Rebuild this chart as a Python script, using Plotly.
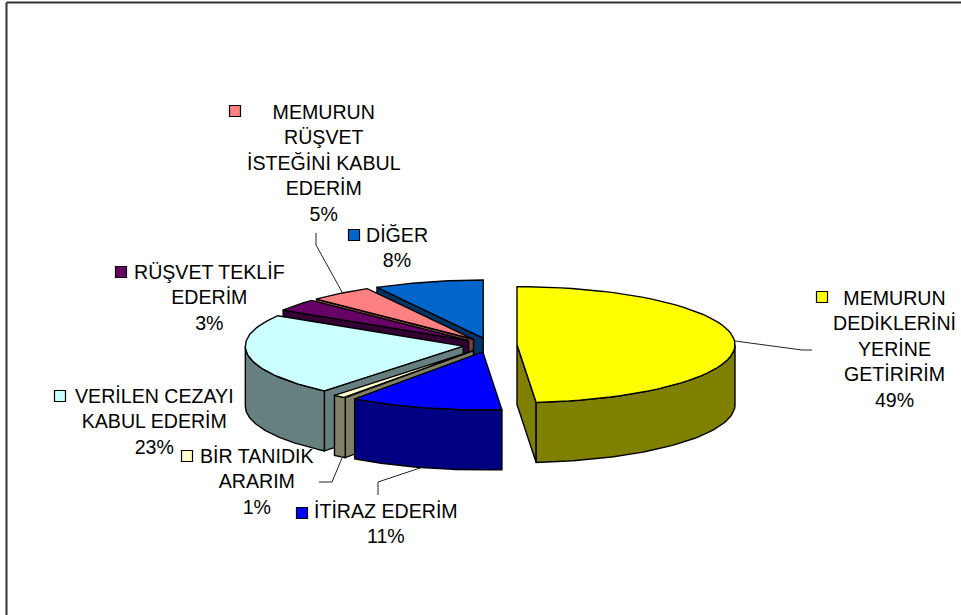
import math
import plotly.graph_objects as go

# --- data (clockwise from 12 o'clock) ---
categories = ["MEMURUN<br>DEDİKLERİNİ<br>YERİNE<br>GETİRİRİM", "İTİRAZ EDERİM", "BİR TANIDIK<br>ARARIM",
              "VERİLEN CEZAYI<br>KABUL EDERİM", "RÜŞVET TEKLİF<br>EDERİM",
              "MEMURUN<br>RÜŞVET<br>İSTEĞİNİ KABUL<br>EDERİM", "DİĞER"]
values = [48.6, 11.4, 1.0, 22.8, 3.4, 4.7, 8.1]
percent_labels = ["49%", "11%", "1%", "23%", "3%", "5%", "8%"]

# --- styles ---
top_colors = ["#FFFF00", "#0000FF", "#FFFFCC", "#CCFFFF", "#660066", "#FF8080", "#0066CC"]
side_colors = ["#808000", "#000080", "#808066", "#668080", "#330033", "#804040", "#003366"]
CX, CY, A, B, DEPTH, EXPLODE = 490, 345, 218, 58, 60, 0.124
label_pos = [(894, 349), (386, 523), (257, 481), (154, 421), (209, 297), (324, 163), (397, 247)]
key_pos = [(822, 297), (302, 513), (187, 456), (60, 396), (121, 272), (235, 111), (354, 235)]
leaders = [[(735, 341), (802, 350), (812, 350)],
           [(423, 467), (378, 482), (378, 495)],
           [(342, 458), (332, 482), (319, 482)],
           None, None,
           [(342, 292), (316, 245), (316, 233)],
           None]

fig = go.Figure()


def poly(pts, fill, width=1.4):
    fig.add_trace(go.Scatter(x=[p[0] for p in pts] + [pts[0][0]], y=[p[1] for p in pts] + [pts[0][1]],
                             mode="lines", fill="toself", fillcolor=fill,
                             line=dict(color="black", width=width), hoverinfo="skip", showlegend=False))


# compute slice angles
total = sum(values)
slices = []
acc = 0.0
for i, v in enumerate(values):
    t0 = acc / total * 2 * math.pi
    acc += v
    t1 = acc / total * 2 * math.pi
    m = (t0 + t1) / 2
    cx = CX + EXPLODE * A * math.sin(m)
    cy = CY - EXPLODE * B * math.cos(m)
    slices.append((i, t0, t1, cx, cy))


def edge(cx, cy, t):
    return (cx + A * math.sin(t), cy - B * math.cos(t))


def arc(cx, cy, t0, t1, n=60):
    return [edge(cx, cy, t0 + (t1 - t0) * k / n) for k in range(n + 1)]


def drop(pts):
    return [(x, y + DEPTH) for x, y in pts]


# paint back to front
for i in [6, 5, 4, 3, 2, 1, 0]:
    _, t0, t1, cx, cy = slices[i]
    c = (cx, cy)
    if math.sin(t0) < 0:  # start face looks toward viewer
        e = edge(cx, cy, t0)
        poly([c, e, (e[0], e[1] + DEPTH), (cx, cy + DEPTH)], side_colors[i])
    if math.sin(t1) > 1e-6:  # end face looks toward viewer
        e = edge(cx, cy, t1)
        poly([c, e, (e[0], e[1] + DEPTH), (cx, cy + DEPTH)], side_colors[i])
    r0, r1 = max(t0, math.pi / 2), min(t1, 3 * math.pi / 2)
    if r1 > r0:
        rim = arc(cx, cy, r0, r1)
        poly(rim + drop(rim)[::-1], side_colors[i])
    poly([c] + arc(cx, cy, t0, t1), top_colors[i])

# leader lines
for seg in leaders:
    if seg:
        fig.add_trace(go.Scatter(x=[p[0] for p in seg], y=[p[1] for p in seg], mode="lines",
                                 line=dict(color="#222222", width=1), hoverinfo="skip", showlegend=False))

# legend keys
for (x, y), col in zip(key_pos, top_colors):
    fig.add_trace(go.Scatter(x=[x], y=[y], mode="markers",
                             marker=dict(symbol="square", size=11, color=col, line=dict(color="black", width=1.2)),
                             hoverinfo="skip", showlegend=False))

# labels
for (x, y), name, pct in zip(label_pos, categories, percent_labels):
    fig.add_annotation(x=x, y=y, xref="x", yref="y", text=f"{name}<br>{pct}", showarrow=False,
                       xanchor="center", yanchor="middle", align="center",
                       font=dict(family="Liberation Sans", size=19.6, color="black"))

# frame: only top and left edges are visible
fig.add_shape(type="line", x0=6.5, x1=6.5, y0=2.5, y1=615, xref="x", yref="y", line=dict(color="#333333", width=2))
fig.add_shape(type="line", x0=6.5, x1=961, y0=2.5, y1=2.5, xref="x", yref="y", line=dict(color="#333333", width=2))

fig.update_layout(width=961, height=615, margin=dict(l=0, r=0, t=0, b=0), paper_bgcolor="white", plot_bgcolor="white",
                  xaxis=dict(range=[0, 961], visible=False, fixedrange=True),
                  yaxis=dict(range=[615, 0], visible=False, fixedrange=True),
                  showlegend=False)
fig.write_html("out.html", config={"displayModeBar": False},
               post_script="document.body.style.margin='0';document.body.style.overflow='hidden';")
